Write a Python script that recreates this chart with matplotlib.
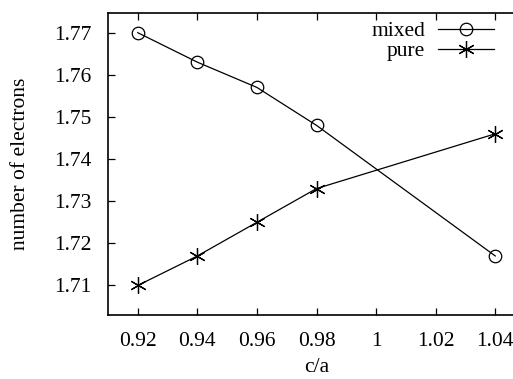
import matplotlib
matplotlib.use("Agg")
import matplotlib.pyplot as plt

plt.rcParams['font.family'] = ['Liberation Serif', 'DejaVu Serif']
plt.rcParams['font.size'] = 15.5

# data
ca = [0.92, 0.94, 0.96, 0.98, 1.04]
mixed = [1.770, 1.763, 1.757, 1.748, 1.717]
pure = [1.710, 1.717, 1.725, 1.733, 1.746]
xticks = [0.92, 0.94, 0.96, 0.98, 1.0, 1.02, 1.04]
xticklabels = ['0.92', '0.94', '0.96', '0.98', '1', '1.02', '1.04']
yticks = [1.71, 1.72, 1.73, 1.74, 1.75, 1.76, 1.77]

fig = plt.figure(figsize=(5.13, 3.79), dpi=100)
ax = fig.add_axes([0.2105, 0.169, 0.813, 0.797])

ax.plot(ca, mixed, color='black', lw=0.9, marker='o', ms=9,
        mfc='none', mec='black', mew=0.9, label='mixed')
ax.plot(ca, pure, color='black', lw=0.9, marker=(6, 2, 0), ms=12,
        mec='black', mew=0.9, label='pure')

ax.set_xlim(0.91, 1.05)
ax.set_ylim(1.703, 1.7747)
ax.set_xticks(xticks)
ax.set_xticklabels(xticklabels)
ax.set_yticks(yticks)
ax.tick_params(direction='in', top=True, right=True, length=5, width=0.9)
ax.tick_params(axis='x', pad=12)
ax.tick_params(axis='y', pad=12)
for s in ax.spines.values():
    s.set_linewidth(1.2)

ax.set_xlabel('c/a', labelpad=5)
ax.set_ylabel('number of electrons', labelpad=17)

leg = ax.legend(loc='upper right', bbox_to_anchor=(0.967, 1.03), frameon=False,
                markerfirst=False, handlelength=2.6, handletextpad=0.6,
                labelspacing=0.0, borderpad=0.3)
for t in leg.get_texts():
    t.set_ha('right')

fig.savefig('out.png', dpi=100)
